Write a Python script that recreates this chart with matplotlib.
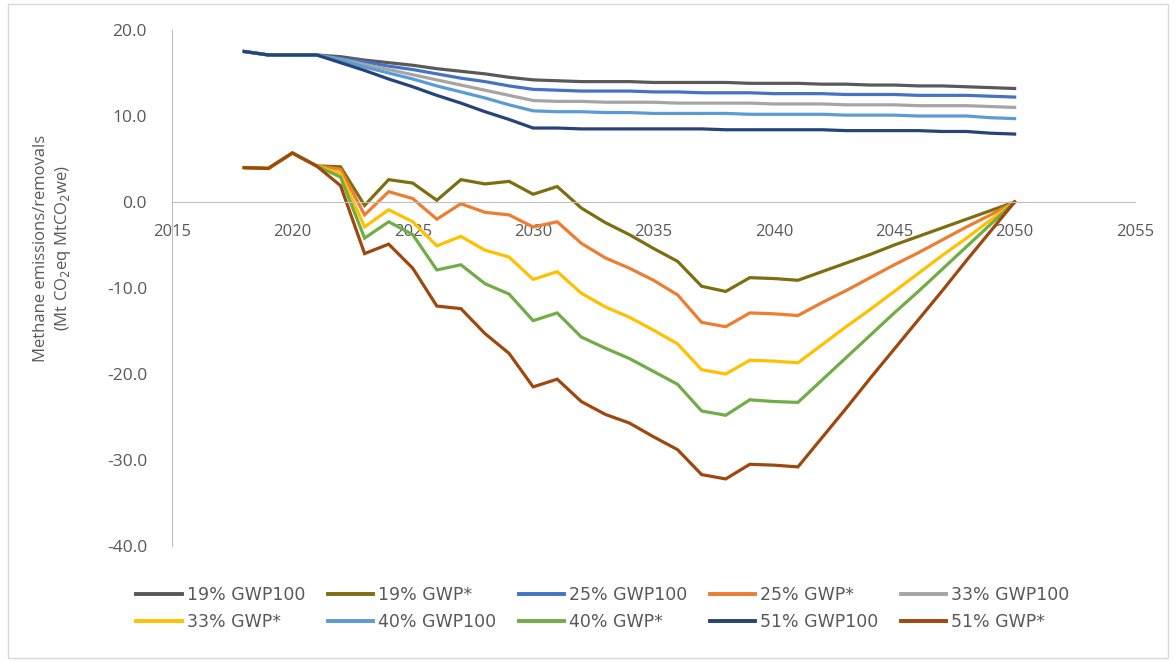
import matplotlib
matplotlib.use("Agg")
import matplotlib.pyplot as plt
from matplotlib.patches import Rectangle

plt.rcParams['font.family'] = ['Open Sans', 'DejaVu Sans']

years = list(range(2018, 2051))

# GWP100 series (2018-2050)
gwp100_19 = [17.5, 17.1, 17.1, 17.1, 16.9, 16.5, 16.2, 15.9, 15.5, 15.2, 14.9, 14.5,
             14.2, 14.1, 14.0, 14.0, 14.0, 13.9, 13.9, 13.9, 13.9, 13.8, 13.8, 13.8,
             13.7, 13.7, 13.6, 13.6, 13.5, 13.5, 13.4, 13.3, 13.2]
gwp100_25 = [17.5, 17.1, 17.1, 17.1, 16.7, 16.3, 15.8, 15.4, 14.9, 14.4, 14.0, 13.5,
             13.1, 13.0, 12.9, 12.9, 12.9, 12.8, 12.8, 12.7, 12.7, 12.7, 12.6, 12.6,
             12.6, 12.5, 12.5, 12.5, 12.4, 12.4, 12.4, 12.3, 12.2]
gwp100_33 = [17.5, 17.1, 17.1, 17.1, 16.6, 16.0, 15.4, 14.8, 14.2, 13.6, 13.0, 12.4,
             11.8, 11.7, 11.7, 11.6, 11.6, 11.6, 11.5, 11.5, 11.5, 11.5, 11.4, 11.4,
             11.4, 11.3, 11.3, 11.3, 11.2, 11.2, 11.2, 11.1, 11.0]
gwp100_40 = [17.5, 17.1, 17.1, 17.1, 16.5, 15.7, 15.0, 14.3, 13.5, 12.8, 12.1, 11.3,
             10.6, 10.5, 10.5, 10.4, 10.4, 10.3, 10.3, 10.3, 10.3, 10.2, 10.2, 10.2,
             10.2, 10.1, 10.1, 10.1, 10.0, 10.0, 10.0, 9.8, 9.7]
gwp100_51 = [17.5, 17.1, 17.1, 17.1, 16.2, 15.3, 14.3, 13.4, 12.4, 11.5, 10.5, 9.6,
             8.6, 8.6, 8.5, 8.5, 8.5, 8.5, 8.5, 8.5, 8.4, 8.4, 8.4, 8.4,
             8.4, 8.3, 8.3, 8.3, 8.3, 8.2, 8.2, 8.0, 7.9]

# GWP* series (2018-2050)
gwps_19 = [4.0, 3.9, 5.7, 4.2, 4.1, -0.4, 2.6, 2.2, 0.2, 2.6, 2.1, 2.4, 0.9, 1.8,
           -0.7, -2.4, -3.8, -5.4, -6.9, -9.8, -10.4, -8.8, -8.9, -9.1, -8.1, -7.1,
           -6.1, -5.0, -4.0, -3.0, -2.0, -1.0, 0.0]
gwps_25 = [4.0, 3.9, 5.7, 4.2, 3.8, -1.5, 1.2, 0.4, -2.0, -0.2, -1.2, -1.5, -2.9, -2.3,
           -4.8, -6.5, -7.7, -9.1, -10.8, -14.0, -14.5, -12.9, -13.0, -13.2, -11.7, -10.3,
           -8.8, -7.3, -5.9, -4.4, -2.9, -1.5, 0.0]
gwps_33 = [4.0, 3.9, 5.7, 4.2, 3.3, -2.9, -0.9, -2.3, -5.1, -4.0, -5.6, -6.4, -9.0, -8.1,
           -10.6, -12.2, -13.4, -14.9, -16.5, -19.5, -20.0, -18.4, -18.5, -18.7, -16.6, -14.5,
           -12.5, -10.4, -8.3, -6.2, -4.2, -2.1, 0.0]
gwps_40 = [4.0, 3.9, 5.7, 4.2, 2.9, -4.2, -2.3, -3.8, -7.9, -7.3, -9.5, -10.7, -13.8, -12.9,
           -15.7, -17.0, -18.2, -19.7, -21.2, -24.3, -24.8, -23.0, -23.2, -23.3, -20.7, -18.1,
           -15.5, -12.9, -10.4, -7.8, -5.2, -2.6, 0.0]
gwps_51 = [4.0, 3.9, 5.7, 4.2, 1.9, -6.0, -4.9, -7.7, -12.1, -12.4, -15.3, -17.6, -21.5, -20.6,
           -23.2, -24.7, -25.7, -27.3, -28.8, -31.7, -32.2, -30.5, -30.6, -30.8, -27.4, -24.0,
           -20.5, -17.1, -13.7, -10.3, -6.8, -3.4, 0.0]

labels = ['19% GWP100', '19% GWP*', '25% GWP100', '25% GWP*', '33% GWP100',
          '33% GWP*', '40% GWP100', '40% GWP*', '51% GWP100', '51% GWP*']
series = [gwp100_19, gwps_19, gwp100_25, gwps_25, gwp100_33,
          gwps_33, gwp100_40, gwps_40, gwp100_51, gwps_51]
colors = ['#595959', '#7F6E10', '#4472C4', '#ED7D31', '#A5A5A5',
          '#FFC000', '#5B9BD5', '#70AD47', '#264478', '#9E480E']

W, H = 1175, 663
fig = plt.figure(figsize=(W / 100, H / 100), dpi=100)
ax = fig.add_axes([172 / W, 1 - 546 / H, (1135 - 172) / W, (546 - 30) / H])

lines = []
for s, lab, c in zip(series, labels, colors):
    ln, = ax.plot(years, s, color=c, lw=2.3, label=lab, solid_joinstyle='miter')
    lines.append(ln)

ax.set_xlim(2015, 2055)
ax.set_ylim(-40, 20)
ax.set_xticks(range(2015, 2056, 5))
ax.set_yticks(range(-40, 21, 10))
ax.set_yticklabels([f'{v:.1f}' for v in range(-40, 21, 10)])

grey = '#595959'
ax.spines['top'].set_visible(False)
ax.spines['right'].set_visible(False)
ax.spines['bottom'].set_position(('data', 0))
ax.spines['bottom'].set_color('#BFBFBF')
ax.spines['left'].set_color('#BFBFBF')
ax.tick_params(axis='x', length=0, pad=16, labelsize=12, labelcolor=grey)
ax.tick_params(axis='y', length=0, pad=18, labelsize=12.5, labelcolor=grey)

fig.text(53 / W, 1 - 248 / H,
         'Methane emissions/removals\n(Mt CO$_2$eq MtCO$_2$we)',
         rotation=90, ha='center', va='center', multialignment='center',
         fontsize=12, color=grey, linespacing=1.25)

# legend fills row by row like the original
order = [0, 5, 1, 6, 2, 7, 3, 8, 4, 9]
leg = fig.legend([lines[i] for i in order], [labels[i] for i in order],
                 loc='upper center', bbox_to_anchor=(603 / W, 1 - 570 / H),
                 ncol=5, frameon=False, handlelength=2.6, handletextpad=0.3,
                 columnspacing=1.3, labelspacing=0.55,
                 prop={'family': ['Liberation Sans Narrow', 'DejaVu Sans'], 'size': 12.5})
for t in leg.get_texts():
    t.set_color(grey)
for h in leg.get_lines():
    h.set_linewidth(2.8)

fig.patches.append(Rectangle((8 / W, 1 - 658 / H), (1168 - 8) / W, (658 - 4) / H,
                             transform=fig.transFigure, fill=False,
                             edgecolor='#D9D9D9', lw=1))

fig.savefig('out.png', dpi=100)
